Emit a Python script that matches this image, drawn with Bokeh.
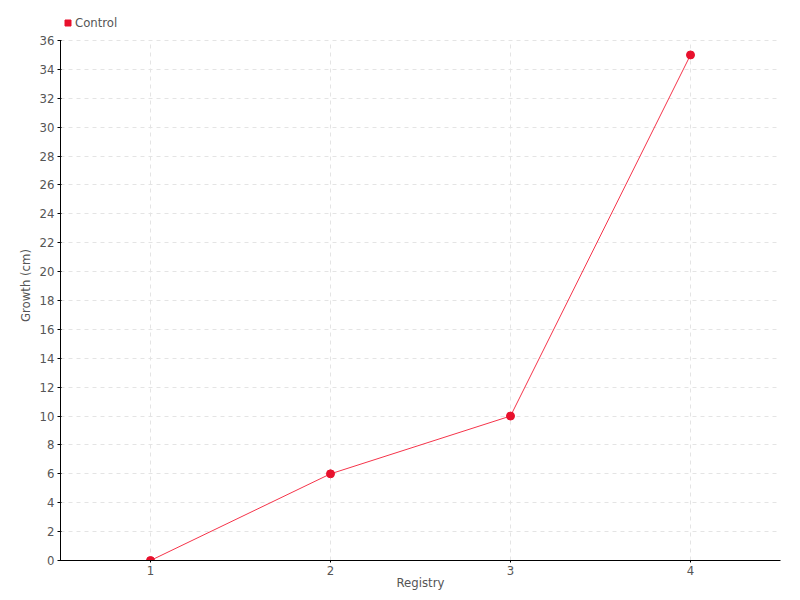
from bokeh.plotting import figure
from bokeh.models import Legend, LegendItem, Range1d, SingleIntervalTicker
from bokeh.embed import file_html
from bokeh.resources import INLINE

registry = [1, 2, 3, 4]
growth = [0, 6, 10, 35]
series_name = "Control"
y_min, y_max = 0, 36

FONT = "DejaVu Sans Condensed"
TXT = "#555555"

# frame extends 30px above the top tick to leave room for the legend
y_end = y_max * (550 / 520)

p = figure(width=800, height=600, output_backend="svg", toolbar_location=None,
           x_range=Range1d(0.5, 4.5), y_range=Range1d(y_min, y_end),
           min_border_left=60, min_border_right=20, min_border_top=10, min_border_bottom=40)
p.outline_line_color = None

line_r = p.line(registry, growth, line_color="#f5344a", line_width=1)
pts_r = p.scatter(registry, growth, size=8, fill_color="#e8112d", line_color="#e8112d")
# legend-only square marker, kept off-frame so that only its legend swatch shows
leg_r = p.scatter(registry[:1], [y_min - y_max], marker="square", size=6,
                  fill_color="#e8112d", line_color="#e8112d")

p.xaxis.ticker = SingleIntervalTicker(interval=1)
p.yaxis.ticker = SingleIntervalTicker(interval=2)
p.yaxis.bounds = (y_min, y_max)
for ax in (p.xaxis[0], p.yaxis[0]):
    ax.axis_line_color = "black"
    ax.axis_line_width = 1
    ax.major_tick_line_color = "black"
    ax.minor_tick_line_color = None
    ax.major_label_text_font = FONT
    ax.major_label_text_color = TXT
    ax.major_label_text_font_size = "13px"
    ax.axis_label_text_font = FONT
    ax.axis_label_text_color = TXT
    ax.axis_label_text_font_size = "13px"
    ax.axis_label_text_font_style = "normal"
    ax.major_label_standoff = 1
    ax.axis_label_standoff = 0
p.xaxis.major_tick_out = 2
p.xaxis.major_tick_in = 0
p.xaxis.axis_label_standoff = -3
p.yaxis.major_tick_out = 3
p.yaxis.major_tick_in = 1
p.yaxis.major_label_standoff = 2
p.yaxis.axis_label_standoff = 4
p.xaxis.axis_label = "Registry"
p.yaxis.axis_label = "Growth (cm)"

for g in (p.xgrid[0], p.ygrid[0]):
    g.grid_line_color = "#e4e4e4"
    g.grid_line_dash = "4 4"
    g.grid_line_width = 1
if "cross_bounds" in p.xgrid[0].properties():
    p.xgrid[0].cross_bounds = (y_min, y_max)

legend = Legend(items=[LegendItem(label=series_name, renderers=[leg_r])],
                location=(0, 530), orientation="horizontal",
                padding=0, margin=0, spacing=0, glyph_width=15, glyph_height=15,
                label_standoff=0, border_line_color=None, background_fill_alpha=0,
                label_text_font=FONT, label_text_color=TXT, label_text_font_size="13px")
p.add_layout(legend)

open("out.html", "w").write(file_html(p, INLINE))
